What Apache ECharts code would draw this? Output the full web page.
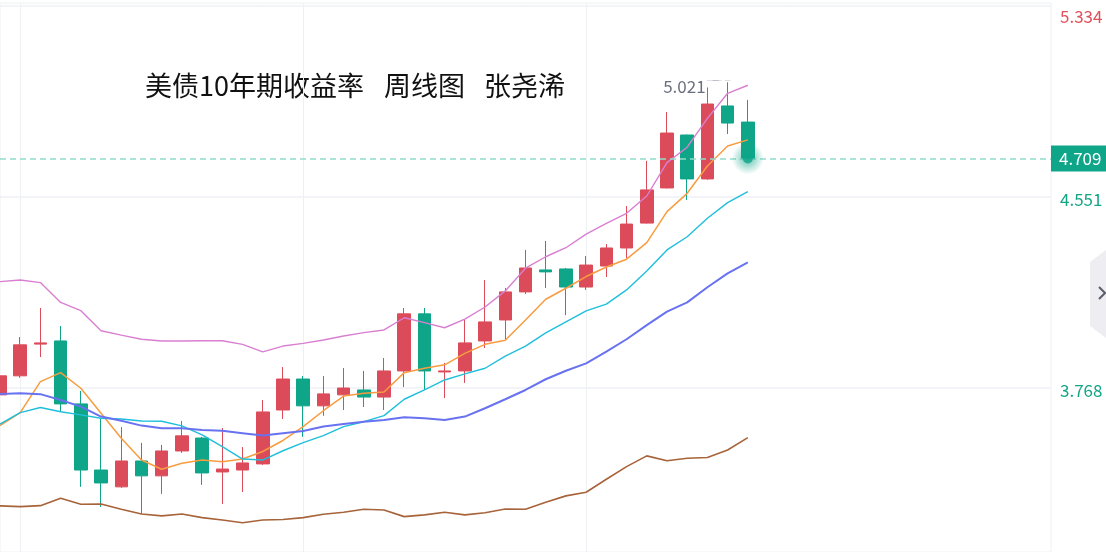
<!DOCTYPE html>
<html>
<head>
<meta charset="utf-8">
<title>美债10年期收益率 周线图</title>
<script src="https://cdn.jsdelivr.net/npm/echarts@6.0.0/dist/echarts.min.js"></script>
<style>
  html, body { margin: 0; padding: 0; background: #fff; }
  #bondChart { width: 1106px; height: 552px; }
</style>
</head>
<body>
<div id="bondChart"></div>
<script>
// weekly candles, 38 real weeks + empty weeks on the right
var weeks = [
    "2023-02-13","2023-02-20","2023-02-27","2023-03-06","2023-03-13","2023-03-20","2023-03-27",
    "2023-04-03","2023-04-10","2023-04-17","2023-04-24","2023-05-01","2023-05-08","2023-05-15",
    "2023-05-22","2023-05-29","2023-06-05","2023-06-12","2023-06-19","2023-06-26","2023-07-03",
    "2023-07-10","2023-07-17","2023-07-24","2023-07-31","2023-08-07","2023-08-14","2023-08-21",
    "2023-08-28","2023-09-04","2023-09-11","2023-09-18","2023-09-25","2023-10-02","2023-10-09",
    "2023-10-16","2023-10-23","2023-10-30",
    "2023-11-06","2023-11-13","2023-11-20","2023-11-27","2023-12-04","2023-12-11","2023-12-18",
    "2023-12-25","2024-01-01","2024-01-08","2024-01-15","2024-01-22","2024-01-29","2024-02-05",
    "2024-02-12"
];
var openV  = [3.740,3.818,3.948,3.961,3.703,3.432,3.363,3.469,3.408,3.510,3.563,3.424,3.432,3.457,3.678,3.805,3.695,3.740,3.760,3.731,
              3.838,4.072,3.834,3.838,3.961,4.047,4.162,4.252,4.256,4.182,4.268,4.342,4.444,4.588,4.805,4.625,4.924,4.858];
var closeV = [3.818,3.945,3.953,3.703,3.432,3.379,3.469,3.408,3.510,3.572,3.420,3.436,3.461,3.670,3.805,3.695,3.744,3.768,3.731,3.838,
              4.072,3.838,3.838,3.953,4.039,4.162,4.260,4.244,4.182,4.272,4.342,4.440,4.580,4.813,4.625,4.932,4.854,4.709];
var lowV   = [3.720,3.810,3.895,3.670,3.363,3.281,3.359,3.252,3.334,3.502,3.371,3.293,3.342,3.453,3.641,3.568,3.654,3.678,3.690,3.678,
              3.772,3.760,3.727,3.789,3.932,3.965,4.153,4.178,4.067,4.170,4.223,4.301,4.442,4.586,4.539,4.622,4.809,4.705];
var highV  = [3.840,3.977,4.096,4.022,3.756,3.641,3.608,3.543,3.535,3.633,3.568,3.604,3.526,3.719,3.854,3.817,3.817,3.850,3.838,3.891,
              4.096,4.096,3.871,4.047,4.211,4.178,4.334,4.371,4.260,4.309,4.358,4.514,4.699,4.899,4.806,5.000,5.021,4.949];

var ma5  = [3.614,3.667,3.794,3.831,3.767,3.665,3.562,3.473,3.435,3.460,3.473,3.466,3.477,3.508,3.553,3.610,3.675,3.735,3.747,3.752,
            3.831,3.849,3.863,3.910,3.947,3.964,4.047,4.132,4.177,4.225,4.264,4.296,4.364,4.491,4.566,4.678,4.760,4.785];
var ma10 = [3.620,3.667,3.688,3.671,3.658,3.644,3.641,3.633,3.632,3.613,3.576,3.528,3.477,3.473,3.511,3.544,3.573,3.610,3.630,3.655,
            3.722,3.760,3.801,3.826,3.849,3.899,3.940,3.994,4.039,4.084,4.112,4.170,4.248,4.334,4.388,4.464,4.528,4.573];
var bollUp  = [4.204,4.211,4.200,4.119,4.085,4.003,3.985,3.968,3.961,3.961,3.962,3.962,3.947,3.916,3.940,3.951,3.965,3.981,3.995,4.006,
               4.056,4.036,4.015,4.050,4.100,4.166,4.259,4.306,4.343,4.399,4.443,4.484,4.555,4.692,4.755,4.873,4.976,5.009];
var bollMid = [3.744,3.747,3.743,3.719,3.692,3.651,3.634,3.614,3.603,3.603,3.596,3.593,3.583,3.573,3.583,3.592,3.610,3.621,3.630,3.637,
               3.648,3.644,3.637,3.651,3.685,3.722,3.760,3.804,3.839,3.869,3.917,3.968,4.026,4.081,4.119,4.181,4.238,4.283];
var bollLow = [3.285,3.282,3.286,3.316,3.292,3.293,3.271,3.252,3.244,3.252,3.237,3.227,3.216,3.227,3.229,3.237,3.251,3.259,3.271,3.268,
               3.241,3.248,3.259,3.248,3.257,3.272,3.271,3.300,3.326,3.341,3.394,3.446,3.490,3.470,3.480,3.483,3.514,3.565];

var yTicks = [3.768, 4.551, 5.334];

var UP = '#dc4b59', DOWN = '#0ea589';

genChart();

function genChart(){
    var kChart = echarts.init(document.getElementById("bondChart"));

    var candles = openV.map(function(o, i){
        return [o, closeV[i], lowV[i], highV[i]];
    });
    var lastIdx = closeV.length - 1;
    var lastClose = closeV[lastIdx];

    function maLine(name, data, color, width){
        return {
            name: name,
            type: 'line',
            data: data,
            symbol: 'none',
            silent: true,
            lineStyle: { color: color, width: width },
            z: 3
        };
    }

    var option = {
        animation: false,
        textStyle: { fontFamily: 'Noto Sans CJK SC' },
        grid: {
            left: 0,
            right: 55,
            top: 3,
            bottom: 0,
            show: true,
            borderColor: '#eff0f4',
            borderWidth: 1
        },
        xAxis: {
            type: 'category',
            data: weeks,
            boundaryGap: false,
            axisLine: { show: false },
            axisTick: { show: false },
            axisLabel: { show: false },
            splitLine: {
                show: true,
                interval: function(idx){ return idx === 1 || idx === 15 || idx === 29; },
                lineStyle: { color: '#eff0f4', width: 1 }
            }
        },
        yAxis: {
            type: 'value',
            position: 'right',
            min: 3.096,
            max: 5.346,
            axisLine: { show: false },
            axisTick: { show: false, customValues: yTicks },
            splitLine: { show: true, lineStyle: { color: '#eff0f4', width: 1.5 } },
            axisLabel: {
                customValues: yTicks,
                margin: 9,
                fontSize: 17,
                formatter: function(v){
                    var s = Number(v).toFixed(3);
                    return v > 5 ? '{hi|' + s + '}' : '{lo|' + s + '}';
                },
                rich: {
                    hi: { color: '#e0505a', fontSize: 17, padding: [22, 0, 0, 0] },
                    lo: { color: '#12a685', fontSize: 17, padding: [5, 0, 0, 0] }
                }
            }
        },
        series: [
            {
                name: 'K',
                type: 'candlestick',
                data: candles,
                barWidth: 13,
                z: 2,
                itemStyle: {
                    color: UP,
                    color0: DOWN,
                    borderColor: UP,
                    borderColor0: DOWN,
                    borderWidth: 1
                },
                markLine: {
                    silent: true,
                    precision: 3,
                    symbol: ['none', 'none'],
                    lineStyle: { color: '#93dccb', type: [6, 4], width: 1.5 },
                    label: {
                        position: 'end',
                        distance: 0,
                        formatter: function(){ return lastClose.toFixed(3); },
                        color: '#fff',
                        fontSize: 17,
                        backgroundColor: DOWN,
                        padding: [5, 8, 4, 8]
                    },
                    data: [{ yAxis: lastClose }]
                },
                markPoint: {
                    silent: true,
                    precision: 3,
                    symbol: 'rect',
                    symbolSize: [18, 0.5],
                    symbolOffset: [-9, -2],
                    itemStyle: {
                        color: 'rgba(0,0,0,0)',
                        borderColor: '#7b8090',
                        borderWidth: 1,
                        borderType: [1.5, 2]
                    },
                    label: {
                        show: true,
                        position: 'left',
                        distance: 1,
                        offset: [0, 6],
                        color: '#6b7080',
                        fontSize: 17,
                        formatter: function(p){ return Number(p.value).toFixed(3); }
                    },
                    data: [{ type: 'max', valueDim: 'highest' }]
                }
            },
            maLine('BOLL UP', bollUp, '#d97fd2', 1.4),
            maLine('MA5', ma5, '#f89c40', 1.5),
            maLine('MA10', ma10, '#1fbfdc', 1.4),
            maLine('BOLL MID', bollMid, '#6872f0', 2),
            maLine('BOLL LOW', bollLow, '#a7633a', 1.6),
            {
                name: 'last',
                type: 'scatter',
                silent: true,
                z: 6,
                symbolSize: 32,
                itemStyle: {
                    color: {
                        type: 'radial', x: 0.5, y: 0.5, r: 0.5,
                        colorStops: [
                            { offset: 0, color: 'rgba(14,165,137,0.85)' },
                            { offset: 0.4, color: 'rgba(14,165,137,0.5)' },
                            { offset: 1, color: 'rgba(14,165,137,0)' }
                        ]
                    }
                },
                data: [[lastIdx, lastClose]]
            },
            {
                name: 'lastDot',
                type: 'scatter',
                silent: true,
                z: 7,
                symbolSize: 10,
                itemStyle: { color: DOWN },
                data: [[lastIdx, lastClose]]
            }
        ],
        graphic: [
            { type: 'text', left: 145, top: 72, style: { text: '美债10年期收益率', fill: '#111', fontSize: 27, fontFamily: 'Noto Sans CJK SC' } },
            { type: 'text', left: 384, top: 72, style: { text: '周线图', fill: '#111', fontSize: 27, fontFamily: 'Noto Sans CJK SC' } },
            { type: 'text', left: 484, top: 72, style: { text: '张尧浠', fill: '#111', fontSize: 27, fontFamily: 'Noto Sans CJK SC' } },
            {
                type: 'polygon',
                shape: { points: [[1090, 262], [1106, 250], [1106, 338], [1090, 326]] },
                style: { fill: '#ededf2' }
            },
            {
                type: 'polyline',
                shape: { points: [[1099, 287], [1105, 293], [1099, 299]] },
                style: { stroke: '#5b5f6b', lineWidth: 2, fill: null }
            }
        ]
    };

    kChart.setOption(option);
}
</script>
</body>
</html>
